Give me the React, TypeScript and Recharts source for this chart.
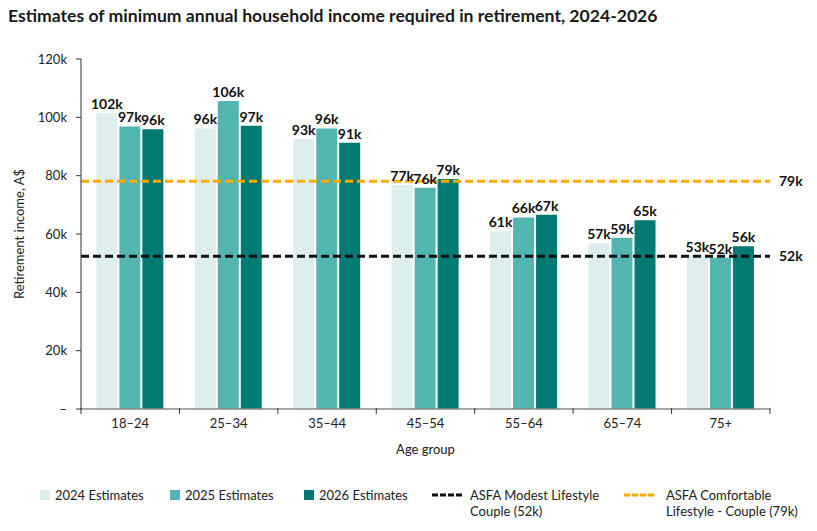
import React from 'react';
import { BarChart, Bar, XAxis, YAxis, ReferenceLine, LabelList } from 'recharts';

const categories = ['18–24', '25–34', '35–44', '45–54', '55–64', '65–74', '75+'];
const est2024 = [101.6, 96.2, 92.6, 76.8, 60.9, 56.8, 52.6];
const est2025 = [96.9, 105.6, 96.2, 75.9, 65.7, 58.7, 51.9];
const est2026 = [95.9, 97.1, 91.3, 78.9, 66.6, 64.7, 55.8];
const yTicks = [0, 20, 40, 60, 80, 100, 120];
const modestValue = 52.4;
const modestLabel = '52k';
const comfortValue = 78.1;
const comfortLabel = '79k';

const seriesNames = ['2024 Estimates', '2025 Estimates', '2026 Estimates'];
const colors = ['#DCEEED', '#53B5B0', '#007A72'];

const data = categories.map((c, i) => ({
  age: c,
  e2024: est2024[i],
  e2025: est2025[i],
  e2026: est2026[i],
}));

const FONT = 'Lato, "Open Sans", sans-serif';

const fmtY = (v: number) => (v === 0 ? '–' : `${v}k`);
const fmtLabel = (v: any) => `${Math.round(Number(v))}k`;
const valueStyle = { fontSize: 14, fontWeight: 700, fill: '#111', fontFamily: FONT };

const XTick = (props: any) => {
  const { x, y, payload, index } = props;
  const half = payload && payload.offset ? payload.offset : 49.2;
  const last = index === categories.length - 1;
  const base = y - 8;
  return (
    <g>
      <line x1={x - half} x2={x - half} y1={base - 1} y2={base + 5} stroke="#333" strokeWidth={1} />
      {last && <line x1={x + half} x2={x + half} y1={base - 1} y2={base + 5} stroke="#333" strokeWidth={1} />}
      <text x={x} y={base + 19} textAnchor="middle" fontSize={13} fill="#222" fontFamily={FONT}>
        {payload.value}
      </text>
    </g>
  );
};

const LegendItems = () => {
  const txt: React.CSSProperties = { fontSize: 13, color: '#222', fontFamily: FONT, lineHeight: '16px' };
  return (
    <div style={{ position: 'absolute', left: 0, top: 487, width: 817, height: 40 }}>
      {seriesNames.map((n, i) => (
        <div key={n} style={{ position: 'absolute', left: [40, 170, 304][i], top: 0, display: 'flex', alignItems: 'flex-start' }}>
          <div style={{ width: 10, height: 10, background: colors[i], marginTop: 3, marginRight: 5 }} />
          <span style={txt}>{n}</span>
        </div>
      ))}
      <div style={{ position: 'absolute', left: 432, top: 0, display: 'flex', alignItems: 'flex-start' }}>
        <svg width={32} height={16} style={{ marginRight: 6 }}>
          <line x1={0} x2={32} y1={8} y2={8} stroke="#111" strokeWidth={3} strokeDasharray="6 2" />
        </svg>
        <span style={txt}>ASFA Modest Lifestyle<br />Couple (52k)</span>
      </div>
      <div style={{ position: 'absolute', left: 624, top: 0, display: 'flex', alignItems: 'flex-start' }}>
        <svg width={32} height={16} style={{ marginRight: 10 }}>
          <line x1={0} x2={32} y1={8} y2={8} stroke="#FFA800" strokeWidth={3} strokeDasharray="6 2" />
        </svg>
        <span style={txt}>ASFA Comfortable<br />Lifestyle - Couple (79k)</span>
      </div>
    </div>
  );
};

export default function App() {
  return (
    <div style={{ position: 'absolute', left: 0, top: 0, width: 817, height: 531, background: '#fff', fontFamily: FONT }}>
      <div style={{ position: 'absolute', left: 8, top: 5, fontSize: 17.6, fontWeight: 700, color: '#1a1a1a', fontFamily: FONT }}>
        Estimates of minimum annual household income required in retirement, 2024-2026
      </div>
      <BarChart
        width={817}
        height={470}
        data={data}
        margin={{ top: 59, right: 47, left: 20, bottom: 11 }}
        barCategoryGap="15.6%"
        barGap={2}
      >
        <XAxis
          dataKey="age"
          height={50}
          tickLine={false}
          tick={<XTick />}
          interval={0}
          axisLine={{ stroke: '#888', strokeWidth: 1.5 }}
          label={{
            content: (p: any) => {
              const vb = p.viewBox || { x: 81, y: 409, width: 689 };
              return (
                <text x={vb.x + vb.width / 2} y={vb.y + 45} textAnchor="middle" fontSize={13} fill="#222" fontFamily={FONT}>
                  Age group
                </text>
              );
            },
          }}
        />
        <YAxis
          width={61}
          domain={[0, 120]}
          ticks={yTicks}
          tickFormatter={fmtY}
          tickSize={5}
          tickMargin={9}
          tick={{ fontSize: 13, fill: '#222', fontFamily: FONT }}
          axisLine={{ stroke: '#333' }}
          tickLine={{ stroke: '#333' }}
          label={{
            content: (p: any) => {
              const vb = p.viewBox || { x: 20, y: 59, height: 350 };
              const cx = vb.x - 1;
              const cy = vb.y + vb.height / 2;
              return (
                <text x={cx} y={cy} transform={`rotate(-90 ${cx} ${cy})`} textAnchor="middle" dominantBaseline="central" fontSize={13} fill="#222" fontFamily={FONT}>
                  Retirement income, A$
                </text>
              );
            },
          }}
        />
        <Bar dataKey="e2024" name={seriesNames[0]} fill={colors[0]} isAnimationActive={false}>
          <LabelList dataKey="e2024" position="top" offset={4} formatter={fmtLabel} style={valueStyle} />
        </Bar>
        <Bar dataKey="e2025" name={seriesNames[1]} fill={colors[1]} isAnimationActive={false}>
          <LabelList dataKey="e2025" position="top" offset={4} formatter={fmtLabel} style={valueStyle} />
        </Bar>
        <Bar dataKey="e2026" name={seriesNames[2]} fill={colors[2]} isAnimationActive={false}>
          <LabelList dataKey="e2026" position="top" offset={4} formatter={fmtLabel} style={valueStyle} />
        </Bar>
        <ReferenceLine
          y={comfortValue}
          stroke="#FFA800"
          strokeWidth={3}
          strokeDasharray="8 4"
          label={{ value: comfortLabel, position: 'right', offset: 9, fontSize: 14, fontWeight: 700, fill: '#111', fontFamily: FONT }}
        />
        <ReferenceLine
          y={modestValue}
          stroke="#111"
          strokeWidth={3}
          strokeDasharray="8 4"
          label={{ value: modestLabel, position: 'right', offset: 9, fontSize: 14, fontWeight: 700, fill: '#111', fontFamily: FONT }}
        />
      </BarChart>
      <LegendItems />
    </div>
  );
}
